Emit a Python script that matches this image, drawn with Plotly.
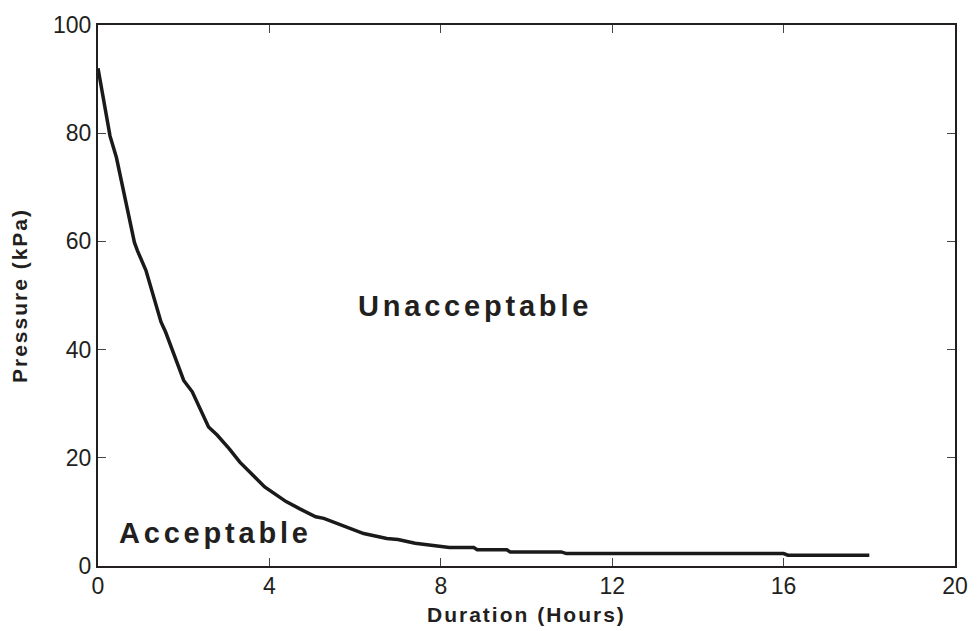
import plotly.graph_objects as go

# Data
duration_hours = [0, 0.28, 0.43, 0.85, 0.92, 1.12, 1.47, 1.58, 2.0, 2.2, 2.58, 2.78, 3.06,
                  3.31, 3.89, 4.39, 4.70, 5.08, 5.27, 5.66, 6.2, 6.74, 7.0, 7.4, 7.77, 8.2,
                  8.77, 8.85, 9.54, 9.62, 10.81, 10.93, 16.0, 16.1, 18.0]
pressure_kpa = [92, 79.5, 75.5, 59.8, 58.3, 54.6, 45.1, 43.2, 34.3, 32.2, 25.7, 24.2, 21.7,
                19.2, 14.6, 11.9, 10.6, 9.1, 8.8, 7.6, 6.0, 5.1, 4.9, 4.2, 3.9, 3.4,
                3.4, 3.0, 3.0, 2.6, 2.6, 2.3, 2.3, 2.0, 2.0]

x_ticks = [0, 4, 8, 12, 16, 20]
y_ticks = [0, 20, 40, 60, 80, 100]

region_labels = ["Unacceptable", "Acceptable"]
region_x = [8.8, 2.75]
region_y = [48, 6.1]

x_title = "Duration (Hours)"
y_title = "Pressure (kPa)"

FONT = "Liberation Sans, Arial, sans-serif"
INK = "#231f20"

fig = go.Figure()
fig.add_trace(go.Scatter(
    x=duration_hours, y=pressure_kpa, mode="lines",
    line=dict(color="#1a1a1a", width=3.5),
    showlegend=False, hoverinfo="skip",
))

for lab, lx, ly in zip(region_labels, region_x, region_y):
    fig.add_annotation(
        x=lx, y=ly, xref="x", yref="y",
        text=f'<b><span style="letter-spacing:3.8px">{lab}</span></b>',
        showarrow=False, font=dict(family=FONT, size=29, color=INK),
        xanchor="center", yanchor="middle",
    )

# x-axis title placed as an annotation for precise vertical position
fig.add_annotation(
    x=0.5, y=-0.089, xref="paper", yref="paper",
    text=f'<b><span style="letter-spacing:2px">{x_title}</span></b>',
    showarrow=False, font=dict(family=FONT, size=21, color=INK),
    xanchor="center", yanchor="middle",
)

axis_common = dict(
    showgrid=False, zeroline=False, showline=True, linecolor=INK, linewidth=2,
    mirror="ticks", ticks="inside", ticklen=8, tickwidth=1, tickcolor="#444",
    tickfont=dict(family=FONT, size=23, color=INK),
)

fig.update_xaxes(
    range=[0, 20], tickvals=x_ticks, ticktext=[str(v) for v in x_ticks],
    ticklabelstandoff=-2,
    **axis_common,
)
fig.update_yaxes(
    range=[0, 100], tickvals=y_ticks, ticktext=[str(v) for v in y_ticks],
    title=dict(text=f'<b><span style="letter-spacing:2px">{y_title}</span></b>',
               font=dict(family=FONT, size=21, color=INK), standoff=20),
    **axis_common,
)

fig.update_layout(
    width=980, height=631,
    margin=dict(l=98, r=15, t=24, b=65),
    paper_bgcolor="white", plot_bgcolor="white",
)

fig.write_html("out.html")
